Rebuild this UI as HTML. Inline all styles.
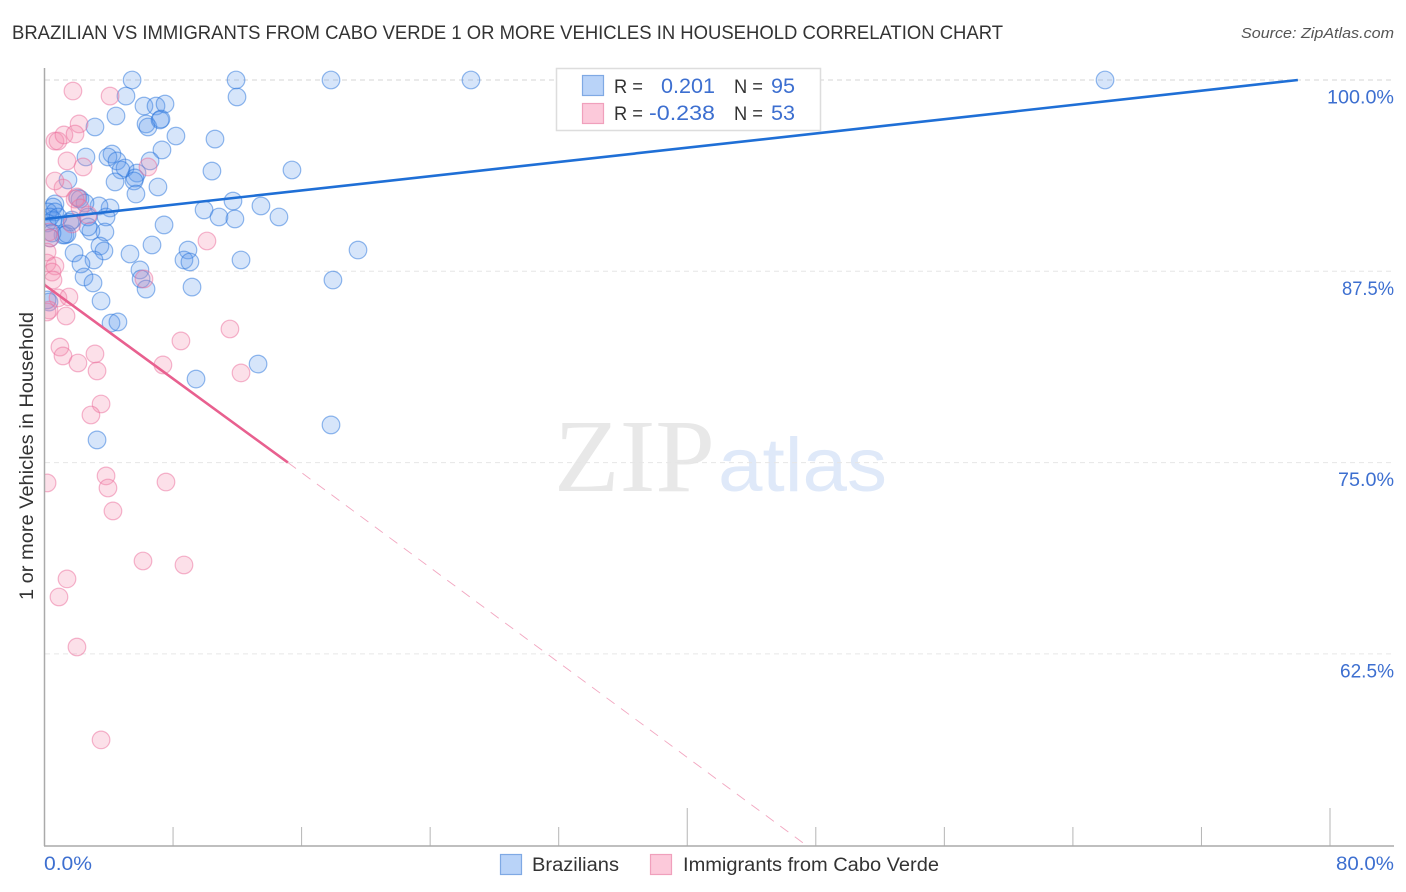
<!DOCTYPE html>
<html lang="en">
<head>
<meta charset="utf-8">
<title>Brazilian vs Immigrants from Cabo Verde correlation chart</title>
<style>
html,body{margin:0;padding:0;background:#fff;width:1406px;height:892px;overflow:hidden}
svg{display:block}
text{font-family:"Liberation Sans",sans-serif}
</style>
</head>
<body>
<svg id="chart" width="1406" height="892" viewBox="0 0 1406 892" xmlns="http://www.w3.org/2000/svg">
  <defs><clipPath id="plot-clip"><rect x="45" y="60" width="1349" height="786"/></clipPath></defs>
  <rect width="1406" height="892" fill="#fff"/>
  <text x="12" y="39" font-size="19" fill="#333" textLength="991" lengthAdjust="spacingAndGlyphs">BRAZILIAN VS IMMIGRANTS FROM CABO VERDE 1 OR MORE VEHICLES IN HOUSEHOLD CORRELATION CHART</text>
  <text x="1241" y="38" font-size="15" font-style="italic" fill="#555" textLength="153" lengthAdjust="spacingAndGlyphs">Source: ZipAtlas.com</text>
  <text x="554" y="491" font-size="104" fill="#e8e8e8" style="font-family:'Liberation Serif',serif" textLength="161" lengthAdjust="spacingAndGlyphs">ZIP</text>
  <text x="718" y="491" font-size="76" fill="#dfe9f9" textLength="169" lengthAdjust="spacingAndGlyphs">atlas</text>
  <g id="grid"></g>
  <g id="marks" clip-path="url(#plot-clip)"></g>
  <g id="axes"></g>
  <text transform="translate(33,456) rotate(-90)" font-size="19" fill="#333" text-anchor="middle" textLength="288" lengthAdjust="spacingAndGlyphs">1 or more Vehicles in Household</text>

  <g>
    <rect x="556.5" y="68.5" width="264" height="62" fill="#fff" stroke="#ddd" stroke-width="1.5"/>
    <rect x="582.5" y="75.5" width="21" height="20" fill="#b9d3f8" stroke="#7fa9e4" stroke-width="1.2"/>
    <rect x="582.5" y="103.5" width="21" height="20" fill="#fcc9da" stroke="#f0a0bc" stroke-width="1.2"/>
    <text x="614" y="93" font-size="19" fill="#333" textLength="29" lengthAdjust="spacingAndGlyphs">R =</text>
    <text x="661" y="93" font-size="21" fill="#3d6fd0" textLength="54" lengthAdjust="spacingAndGlyphs">0.201</text>
    <text x="734" y="93" font-size="19" fill="#333" textLength="29" lengthAdjust="spacingAndGlyphs">N =</text>
    <text x="771" y="93" font-size="21" fill="#3d6fd0" textLength="24" lengthAdjust="spacingAndGlyphs">95</text>
    <text x="614" y="120" font-size="19" fill="#333" textLength="29" lengthAdjust="spacingAndGlyphs">R =</text>
    <text x="649" y="120" font-size="21" fill="#3d6fd0" textLength="66" lengthAdjust="spacingAndGlyphs">-0.238</text>
    <text x="734" y="120" font-size="19" fill="#333" textLength="29" lengthAdjust="spacingAndGlyphs">N =</text>
    <text x="771" y="120" font-size="21" fill="#3d6fd0" textLength="24" lengthAdjust="spacingAndGlyphs">53</text>
  </g>

  <g>
    <rect x="500.5" y="854.5" width="21" height="20" fill="#b9d3f8" stroke="#7fa9e4" stroke-width="1.2"/>
    <text x="532" y="871" font-size="19" fill="#333" textLength="87" lengthAdjust="spacingAndGlyphs">Brazilians</text>
    <rect x="650.5" y="854.5" width="21" height="20" fill="#fcc9da" stroke="#f0a0bc" stroke-width="1.2"/>
    <text x="683" y="871" font-size="19" fill="#333" textLength="256" lengthAdjust="spacingAndGlyphs">Immigrants from Cabo Verde</text>
  </g>
</svg>

<script>
var yTickValues = [100, 87.5, 75, 62.5];
var yTickLabels = ['100.0%', '87.5%', '75.0%', '62.5%'];
var xTickValues = [0, 8, 16, 24, 32, 40, 48, 56, 64, 72, 80];
var xEndLabels = ['0.0%', '80.0%'];

var braziliansX = [5.45,11.92,17.83,26.54,66.0,5.07,11.98,6.19,6.94,7.50,4.45,6.32,6.44,7.19,7.25,8.18,10.61,3.14,7.31,6.57,2.58,4.20,3.95,4.51,5.01,4.76,5.76,5.63,10.42,15.40,4.39,1.46,5.57,7.06,5.69,11.73,13.47,9.93,10.86,11.85,14.59,7.44,4.08,3.39,3.83,3.76,2.89,6.69,3.45,3.70,1.84,5.32,8.93,8.68,9.05,12.23,3.08,2.27,5.94,6.01,6.32,9.18,2.46,3.02,17.95,3.52,4.14,4.57,0.28,0.16,19.51,13.29,9.43,17.83,3.27,0.65,0.53,0.22,0.65,0.53,0.16,0.34,1.71,2.08,2.21,2.52,1.15,1.28,0.34,0.47,2.71,2.71,1.59,0.84,1.40];
var braziliansY = [100,100,100,100,100,98.95,98.89,98.30,98.30,98.43,97.65,97.13,96.93,97.39,97.45,96.34,96.14,96.93,95.43,94.71,94.97,95.16,94.97,94.71,94.25,94.12,93.92,93.60,94.05,94.12,93.34,93.47,93.40,93.01,92.55,92.09,91.77,91.51,91.05,90.92,91.05,90.53,91.64,91.77,91.05,90.07,90.13,89.22,89.15,88.83,88.70,88.63,88.89,88.24,88.11,88.24,88.24,87.98,87.59,87.00,86.34,86.47,87.13,86.74,86.93,85.56,84.12,84.19,85.49,85.63,88.89,81.44,80.46,77.46,76.48,91.90,91.70,91.38,91.38,90.85,90.66,91.05,90.85,92.29,92.22,91.96,89.87,89.87,89.68,90.00,91.05,90.40,90.72,91.05,89.94];

var caboVerdeX = [1.77,4.08,2.15,0.65,0.84,1.21,1.90,1.40,2.40,6.44,1.15,0.65,2.02,1.90,2.21,2.71,1.71,0.28,0.34,0.16,0.16,0.65,0.47,0.53,0.84,1.52,1.34,0.28,0.16,0.96,1.15,2.08,3.14,3.27,3.52,2.89,10.11,6.19,11.54,8.49,7.37,12.23,3.83,3.95,4.26,7.56,0.16,6.13,8.68,1.40,0.90,2.02,3.52];
var caboVerdeY = [99.28,98.95,97.13,96.01,96.01,96.41,96.47,94.71,94.32,94.32,92.94,93.40,92.36,92.22,91.64,91.18,90.59,90.07,89.68,88.04,88.76,87.85,87.45,86.93,85.76,85.82,84.58,84.97,84.84,82.55,81.97,81.51,82.10,80.99,78.83,78.11,89.48,87.00,83.73,82.95,81.38,80.86,74.13,73.34,71.84,73.73,73.67,68.57,68.31,67.40,66.22,62.95,56.88];

var blueTrendX = [0, 78];
var blueTrendY = [90.92, 100];
var pinkSolidX = [0, 15.15];
var pinkSolidY = [86.61, 75];
var pinkDashX = [15.15, 47.4];
var pinkDashY = [75, 50];

var NS = 'http://www.w3.org/2000/svg';
var yLabelWidths = [67, 52, 56, 54];
function xScale(v) { return 44.5 + v * (1285.5 / 80); }
function yScale(v) { return 80 + (100 - v) * (191.3 / 12.5); }
function make(tag, parent, attrs) {
  var el = document.createElementNS(NS, tag);
  for (var k in attrs) { el.setAttribute(k, attrs[k]); }
  parent.appendChild(el);
  return el;
}
var grid = document.getElementById('grid');
var axes = document.getElementById('axes');
var marks = document.getElementById('marks');

yTickValues.forEach(function (v, i) {
  var line = make('line', grid, {x1: 45, x2: 1394, y1: yScale(v), y2: yScale(v), stroke: i === 0 ? '#d4d4d4' : '#e6e6e6', 'stroke-width': 1, 'stroke-dasharray': '5 4'});
  
  
  var label = make('text', axes, {x: 1394 - yLabelWidths[i], y: yScale(v) + 23.5, 'font-size': 19, fill: '#3d6fd0', textLength: yLabelWidths[i], lengthAdjust: 'spacingAndGlyphs'});
  label.textContent = yTickLabels[i];
  
  
});

xTickValues.forEach(function (v, i) {
  if (i === 0) { return; }
  var major = (i === 5 || i === 10);
  var tick = make('line', axes, {x1: xScale(v), x2: xScale(v), y1: 846, y2: major ? 808 : 827, stroke: '#b5b5b5', 'stroke-width': 1});
  
  
});

var yAxisLine = make('line', axes, {x1: 44.5, x2: 44.5, y1: 68, y2: 846, stroke: '#aaa', 'stroke-width': 1.5});


var xAxisLine = make('line', axes, {x1: 44, x2: 1394, y1: 846, y2: 846, stroke: '#aaa', 'stroke-width': 1.5});



var xStart = make('text', axes, {x: 44, y: 870, 'font-size': 19, fill: '#3d6fd0', textLength: 48, lengthAdjust: 'spacingAndGlyphs'});
xStart.textContent = xEndLabels[0];


var xEnd = make('text', axes, {x: 1336, y: 870, 'font-size': 19, fill: '#3d6fd0', textLength: 58, lengthAdjust: 'spacingAndGlyphs'});
xEnd.textContent = xEndLabels[1];



braziliansX.forEach(function (v, i) {
  var dot = make('circle', marks, {cx: xScale(v), cy: yScale(braziliansY[i]), r: 8.8, fill: 'rgba(90,150,235,0.25)', stroke: 'rgba(40,115,220,0.5)', 'stroke-width': 1.2});
  
  
});
caboVerdeX.forEach(function (v, i) {
  var dot = make('circle', marks, {cx: xScale(v), cy: yScale(caboVerdeY[i]), r: 8.8, fill: 'rgba(245,140,175,0.27)', stroke: 'rgba(235,110,155,0.5)', 'stroke-width': 1.2});
  
  
});

var blueTrend = make('line', marks, {x1: xScale(blueTrendX[0]), y1: yScale(blueTrendY[0]), x2: xScale(blueTrendX[1]), y2: yScale(blueTrendY[1]), stroke: '#1f6fd6', 'stroke-width': 2.6});


var pinkSolid = make('line', marks, {x1: xScale(pinkSolidX[0]), y1: yScale(pinkSolidY[0]), x2: xScale(pinkSolidX[1]), y2: yScale(pinkSolidY[1]), stroke: '#e8608f', 'stroke-width': 2.6});


var pinkDash = make('line', marks, {x1: xScale(pinkDashX[0]), y1: yScale(pinkDashY[0]), x2: xScale(pinkDashX[1]), y2: yScale(pinkDashY[1]), stroke: '#f2a6c0', 'stroke-width': 0.9, 'stroke-dasharray': '10 8'});


</script>
</body>
</html>
